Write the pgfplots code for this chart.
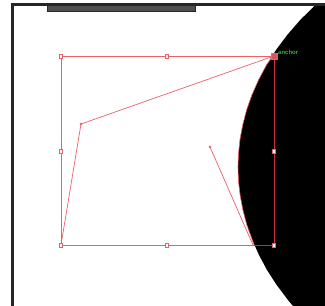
\documentclass[border=0pt]{standalone}
\usepackage{pgfplots}
\pgfplotsset{compat=1.18}
\usepackage{fontspec}
\setmainfont{Liberation Sans}
\definecolor{sel}{RGB}{238,96,104}
\definecolor{seld}{RGB}{200,45,60}
\definecolor{frame}{RGB}{38,38,38}
\definecolor{barc}{RGB}{78,78,78}
\definecolor{anc}{RGB}{70,170,50}
\begin{document}
\begin{tikzpicture}
\begin{axis}[
  width=325pt, height=306pt, scale only axis,
  xmin=0, xmax=325, ymin=0, ymax=306, y dir=reverse,
  hide axis, enlargelimits=false, clip=true,
]
% background
\addplot[fill=white, draw=none] coordinates {(0,0)(325,0)(325,306)(0,306)} --cycle;
% black shape
\addplot[fill=black, draw=none] coordinates {
(325,4)(316.4,4)(300.2,20)(287.2,35)(276.0,50)(266.5,65)(258.5,80)(251.9,95)(246.6,110)(242.7,125)(239.9,140)(238.4,155)(238,167)(238.4,180)(240.1,195)(242.9,210)(246.9,225)(252.3,240)(259.0,255)(267.0,270)(276.7,285)(288.0,300)(293.0,306)(325,306)} --cycle;
% red outline along the shape edge
\addplot[draw=sel, line width=0.6pt] coordinates {
(273,56)(266.5,65)(258.5,80)(251.9,95)(246.6,110)(242.7,125)(239.9,140)(238.4,155)(238,167)(238.4,180)(240.1,195)(242.9,210)(246.9,225)(252.3,240)(254,245)};
% frame
\addplot[draw=frame, line width=3pt, line join=miter] coordinates {(12.5,310)(12.5,4)(330,4)};
% top bar
\addplot[fill=barc, draw=frame, line width=0.6pt] coordinates {(47,5)(195,5)(195,11)(47,11)} --cycle;
% bounding box
\addplot[draw=sel, line width=0.7pt] coordinates {(274,56)(61,56)(61,245)(254,245)};
\addplot[draw=seld, line width=0.8pt] coordinates {(274,56)(274,245)(254,245)};
% control handle lines
\addplot[draw=sel, line width=0.7pt] coordinates {(274,56)(81,124)(61,245)};
\addplot[draw=sel, line width=0.7pt] coordinates {(210,147)(253,245)};
% control points
\addplot[only marks, mark=*, mark size=1pt, color=sel] coordinates {(81,124)(210,147)};
% handles
\addplot[only marks, mark=square*, mark size=1.8pt, mark options={fill=white, draw=sel, line width=0.6pt}] coordinates {
(61,56)(167,56)(61,151)(274,151)(61,245)(167,245)(274,245)};
\addplot[only marks, mark=square*, mark size=3pt, mark options={fill=sel!90!black, draw=sel}] coordinates {(274,56)};
\node[anchor=west, inner sep=0pt, text=anc, font=\fontsize{6}{7}\selectfont\bfseries] at (axis cs:278,52.5) {anchor};
\end{axis}
\end{tikzpicture}
\end{document}
